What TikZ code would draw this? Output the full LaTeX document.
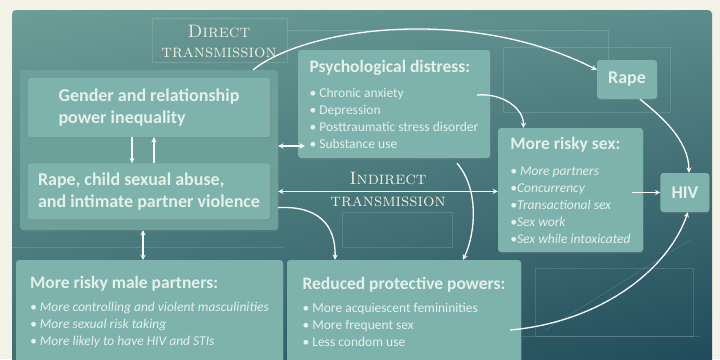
\documentclass[tikz,border=0pt]{standalone}
\usepackage{fontspec}
\setsansfont{Carlito}
\usepackage{tikz}
\usetikzlibrary{positioning,calc,shadows,shadings}
\definecolor{cream}{HTML}{F3F2E7}
\definecolor{panelA}{HTML}{6C9D98}
\definecolor{panelB}{HTML}{5C8C8B}
\definecolor{panelC}{HTML}{3C6C71}
\definecolor{panelD}{HTML}{1E4858}
\definecolor{boxteal}{HTML}{7EB3AD}
\definecolor{groupteal}{HTML}{6BA09B}
\definecolor{boxtext}{HTML}{E6F0EA}
\definecolor{routecream}{HTML}{EFEDDD}
\newcommand{\boxhead}[1]{{\bfseries\fontsize{17.5}{20}\selectfont #1}}

\begin{document}
\begin{tikzpicture}[
    x=1pt, y=1pt,
    box/.style={rectangle, fill=boxteal, rounded corners=3pt, drop shadow={shadow xshift=1pt, shadow yshift=-1.5pt, opacity=0.25}, align=left, text=boxtext, inner sep=0pt, font=\sffamily\fontsize{13.5}{17}\selectfont},
    bigbox/.style={box, font=\sffamily\bfseries\fontsize{18}{22.5}\selectfont},
    arrow/.style={->, >=stealth, line width=1.3pt, draw=white},
    dblarrow/.style={arrow, <->},
    route/.style={font=\rmfamily\fontsize{18}{20}\selectfont\addfontfeatures{LetterSpace=5}, text=routecream, align=center},
    deco/.style={draw=white, draw opacity=0.13, line width=0.6pt},
]
\useasboundingbox (0,0) rectangle (720,-359);
\fill[cream] (0,0) rectangle (720,-359);
\shade[rounded corners=4pt, upper left=panelA, upper right=panelB, lower left=panelC, lower right=panelD] (12,-10) rectangle (712,-372);

\draw[deco] (152,-18) rectangle (287,-62);
\draw[deco] (287,-30) -- (608,-30) -- (608,-60);
\draw[deco] (503,-47) rectangle (670,-112);
\draw[deco] (342,-212) rectangle (452,-247);
\draw[deco] (535,-268) rectangle (693,-336);
\draw[deco] (520,-336) -- (700,-336);
\draw[deco] (545,-330) -- (690,-240);
\draw[deco] (12,-247) -- (283,-247);

\node[box, fill=groupteal, minimum width=258, minimum height=160] (group) at (149,-150) {};
\node[bigbox, minimum width=242, minimum height=59] (gender) at (149,-107.5) {Gender and relationship\\power inequality};
\node[bigbox, minimum width=242, minimum height=56, below=26 of gender] (abuse) {Rape, child sexual abuse,\\and intimate partner violence};
\node[box, minimum width=192, minimum height=108] (psych) at (394,-104) {\boxhead{Psychological distress:}\\[8pt]
    \textbullet\ Chronic anxiety\\ \textbullet\ Depression\\ \textbullet\ Posttraumatic stress disorder\\ \textbullet\ Substance use};
\node[bigbox, minimum width=60, minimum height=39] (rape) at (627,-79.5) {Rape};
\node[box, minimum width=145, minimum height=124, font=\sffamily\itshape\fontsize{13.5}{17}\selectfont] (risky) at (570.5,-190) {\boxhead{\upshape More risky sex:}\\[9pt]
    \textbullet\ More partners\\ \textbullet Concurrency\\ \textbullet Transactional sex\\ \textbullet Sex work\\ \textbullet Sex while intoxicated};
\node[bigbox, minimum width=49, minimum height=39, anchor=west] (hiv) at ($(risky.east)+(17,-2.5)$) {HIV};
\node[box, minimum width=267, minimum height=104, font=\sffamily\itshape\fontsize{13.5}{17}\selectfont] (male) at (149.5,-312) {\boxhead{\upshape More risky male partners:}\\[6pt]
    \textbullet\ More controlling and violent masculinities\\ \textbullet\ More sexual risk taking\\ \textbullet\ More likely to have HIV and STIs};
\node[box, minimum width=234, minimum height=104] (reduced) at (404,-312) {\boxhead{Reduced protective powers:}\\[6pt]
    \textbullet\ More acquiescent femininities\\ \textbullet\ More frequent sex\\ \textbullet\ Less condom use};

\node[route] (direct) at (219,-41) {\textsc{Direct}\\\textsc{transmission}};
\node[route] (indirect) at (388,-189) {\textsc{Indirect}\\[2pt]\textsc{transmission}};

\draw[arrow] ([xshift=-25pt]group.north east) .. controls +(52,42) and +(-128,65) .. ([yshift=-10pt]rape.north west);
\draw[arrow] ([xshift=13pt]rape.south) .. controls +(20,-16) and +(0,33) .. ([xshift=4pt]hiv.north);
\draw[arrow] ([xshift=-17pt]gender.south) -- ([xshift=-17pt]abuse.north);
\draw[arrow] ([xshift=5pt]abuse.north) -- ([xshift=5pt]gender.south);
\draw[dblarrow] ($(group.east)+(0,4)$) -- ($(psych.west |- group.east)+(7,4)$);
\draw[arrow] ([shift={(-13,9)}]psych.east) .. controls +(25,2) and +(0,20) .. ([xshift=-47pt]risky.north);
\draw[dblarrow] (abuse.east -| group.east) -- (abuse.east -| risky.west);
\draw[arrow] ($(group.east |- abuse.south)+(0,12)$) .. controls +(40,2) and +(1,35) .. ([xshift=-69pt]reduced.north);
\draw[arrow] ([xshift=63pt,yshift=-5pt]psych.south) .. controls +(23,-27) and +(12,25) .. ([xshift=59pt]reduced.north);
\draw[arrow] ([shift={(-11,-18)}]reduced.east) .. controls +(90,8) and +(-20,-58) .. ([xshift=3pt]hiv.south);
\draw[arrow] ($(risky.east |- hiv.west)+(-11,0)$) -- (hiv.west);
\draw[dblarrow] ([xshift=-6pt]group.south) -- ([xshift=-6pt]group.south |- male.north);

\end{tikzpicture}
\end{document}
